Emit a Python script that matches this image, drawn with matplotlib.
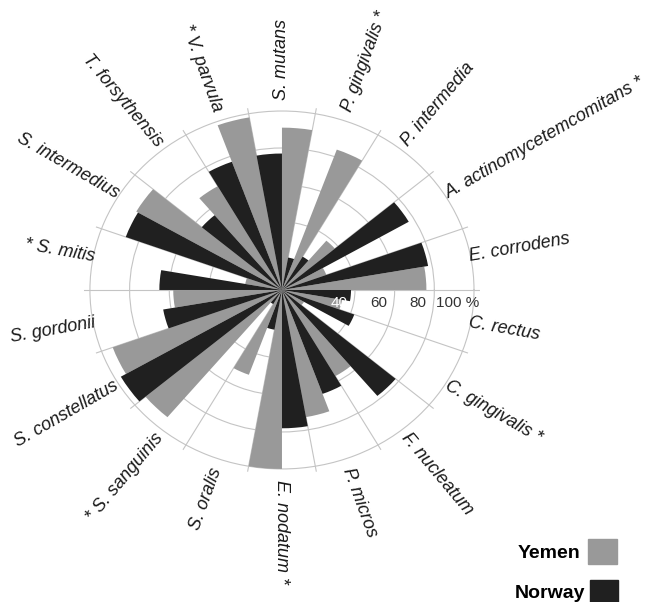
import matplotlib
matplotlib.use("Agg")
import matplotlib.pyplot as plt
import numpy as np
from matplotlib.patches import Rectangle
from matplotlib.transforms import offset_copy

plt.rcParams['font.family'] = ['Liberation Sans', 'DejaVu Sans']

# categories counterclockwise from 0 degrees, one 20 degree sector each
species = ["E. corrodens", "A. actinomycetemcomitans *", "P. intermedia", "P. gingivalis *",
           "S. mutans", "* V. parvula", "T. forsythensis", "S. intermedius", "* S. mitis",
           "S. gordonii", "S. constellatus", "* S. sanguinis", "S. oralis", "E. nodatum *",
           "P. micros", "F. nucleatum", "C. gingivalis *", "C. rectus"]
yemen = [76, 27, 38, 84, 91, 98, 68, 88, 22, 58, 94, 93, 52, 100, 73, 57, 16, 34]
norway = [78, 77, 24, 21, 77, 77, 56, 87, 65, 64, 97, 12, 25, 78, 63, 78, 42, 38]
rings = [40, 60, 80, 100]
ring_labels = ["40", "60", "80", "100 %"]

gray = '#999999'
black = '#202020'

fig = plt.figure(figsize=(6.5, 6.02), dpi=100)
ax = fig.add_axes([0.1292, 0.2118, 0.6092, 0.6130], projection='polar')
ax.set_aspect('auto')

rmin, rmax = 3.2, 103
n = len(species)
sector = 2 * np.pi / n
half = sector / 2
start = np.arange(n) * sector

ax.bar(start, np.array(yemen) - rmin, width=half, bottom=rmin, align='edge',
       color=gray, linewidth=0)
ax.bar(start + half, np.array(norway) - rmin, width=half, bottom=rmin, align='edge',
       color=black, linewidth=0)

ax.set_ylim(rmin, rmax)
ax.set_xticks(start)
ax.set_xticklabels([])
ax.set_yticks(rings)
ax.set_yticklabels([])
ax.grid(color='#c4c4c4', linewidth=0.8)
ax.set_axisbelow(True)
ax.spines['polar'].set_visible(False)

# species names, fixed pixel distance from the centre
R = 190
for i, name in enumerate(species):
    ang = (i + 0.5) * 20
    t = np.deg2rad(ang)
    tr = offset_copy(ax.transData, fig=fig, x=R * np.cos(t), y=R * np.sin(t), units='dots')
    if 90 < ang < 270:
        rot, ha = ang - 180, 'right'
    else:
        rot, ha = (ang if ang <= 90 else ang - 360), 'left'
    ax.text(0, rmin, name, transform=tr, rotation=rot, rotation_mode='anchor',
            ha=ha, va='center', fontsize=13, style='italic', color='#1a1a1a')

# ring values along the 0 degree spoke
for v, lab in zip(rings, ring_labels):
    tr = offset_copy(ax.transData, fig=fig, x=-16, y=-13, units='dots')
    ax.text(0, v, lab, transform=tr, ha='center', va='center', fontsize=11,
            color='white' if v == 40 else '#333333')

# legend
fig.text(580 / 650, 1 - 553 / 602, "Yemen", ha='right', va='center', fontsize=14, fontweight='bold')
fig.add_artist(Rectangle((588 / 650, 1 - 564 / 602), 29 / 650, 25 / 602,
                         transform=fig.transFigure, color=gray))
fig.text(585 / 650, 1 - 594 / 602, "Norway", ha='right', va='center', fontsize=14, fontweight='bold')
fig.add_artist(Rectangle((590 / 650, 1 - 606 / 602), 28 / 650, 26 / 602,
                         transform=fig.transFigure, color=black))

fig.savefig("out.png", dpi=100)
